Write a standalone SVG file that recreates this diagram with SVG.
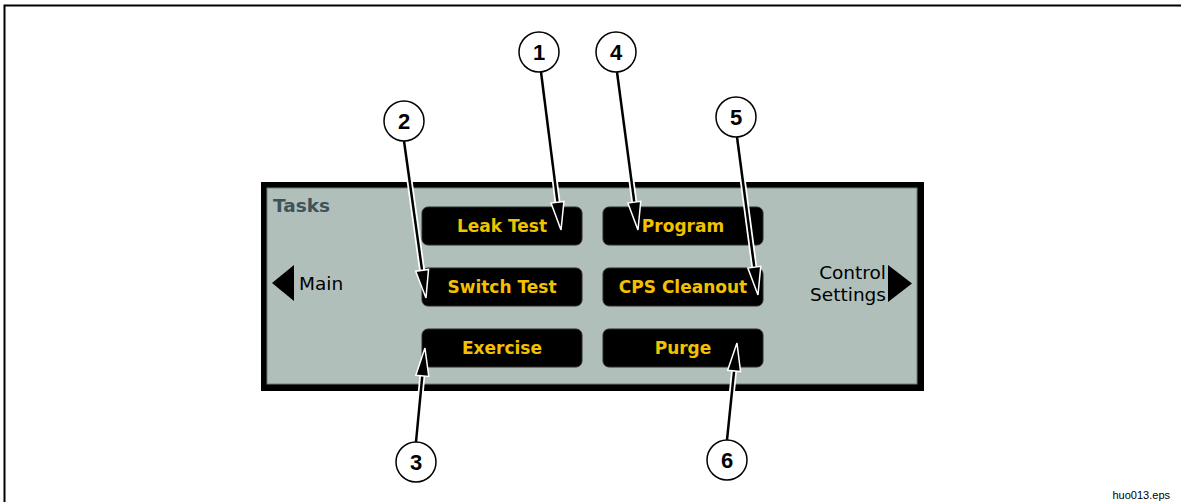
<svg xmlns="http://www.w3.org/2000/svg" width="1181" height="502" viewBox="0 0 1181 502">
<style>
.btn{fill:#000;stroke:#2a2a2a;stroke-width:1}
.btxt{font-family:"DejaVu Sans",Verdana,sans-serif;font-weight:bold;font-size:17px;fill:#f2c100;text-anchor:middle}
.lbl{font-family:"DejaVu Sans",Verdana,sans-serif;font-size:18.5px;fill:#000}
.num{font-family:"Liberation Sans",Arial,sans-serif;font-weight:bold;font-size:22px;fill:#000;text-anchor:middle}
.circ{fill:#fff;stroke:#000;stroke-width:1.5}
.halo{fill:none;stroke:#fff;stroke-width:6}
.lead{fill:none;stroke:#000;stroke-width:2.5;marker-end:url(#ah)}
</style>
<defs>
<marker id="ah" markerUnits="userSpaceOnUse" orient="auto" refX="0" refY="0" markerWidth="40" markerHeight="20" viewBox="-2 -10 34 20" overflow="visible">
<path d="M0,-6.5 L28,0 L0,6.5 Z" fill="#000" stroke="#fff" stroke-width="1.5" stroke-linejoin="miter"/>
</marker>
</defs>
<rect width="1181" height="502" fill="#fff"/>
<path d="M4.5,502 V5.5 H1181" fill="none" stroke="#000" stroke-width="2"/>
<text x="1170" y="499" font-family="'Liberation Sans',Arial,sans-serif" font-size="11" text-anchor="end">huo013.eps</text>

<g id="panel">
<rect x="261" y="182" width="663" height="209" fill="#000"/>
<rect x="267" y="188" width="650" height="196" fill="#b0bfba" stroke="#6f7c78" stroke-width="1"/>
<text x="273" y="212" font-family="'DejaVu Sans',Verdana,sans-serif" font-weight="bold" font-size="18.5" fill="#3e525a">Tasks</text>
</g>
<g id="main">
<polygon points="272,283 294,265 294,301" fill="#000"/>
<text class="lbl" x="299" y="290">Main</text>
</g>
<g id="control-settings">
<polygon points="888,265 912,283.5 888,302" fill="#000"/>
<text class="lbl" x="886" y="279" text-anchor="end">Control</text>
<text class="lbl" x="886" y="301" text-anchor="end">Settings</text>
</g>
<g id="leak-test"><rect class="btn" x="422" y="207" width="160" height="38" rx="6"/><text class="btxt" x="502" y="232">Leak Test</text></g>
<g id="switch-test"><rect class="btn" x="422" y="268" width="160" height="38" rx="6"/><text class="btxt" x="502" y="293">Switch Test</text></g>
<g id="exercise"><rect class="btn" x="422" y="329" width="160" height="38" rx="6"/><text class="btxt" x="502" y="354">Exercise</text></g>
<g id="program"><rect class="btn" x="603" y="207" width="160" height="38" rx="6"/><text class="btxt" x="683" y="232">Program</text></g>
<g id="cps-cleanout"><rect class="btn" x="603" y="268" width="160" height="38" rx="6"/><text class="btxt" x="683" y="293">CPS Cleanout</text></g>
<g id="purge"><rect class="btn" x="603" y="329" width="160" height="38" rx="6"/><text class="btxt" x="683" y="354">Purge</text></g>

<g id="connectors">
<path class="halo" d="M541,72 L557.5,202.2"/>
<path class="halo" d="M404,141 L422.1,270.3"/>
<path class="halo" d="M416,442 L422.3,375.9"/>
<path class="halo" d="M617,72 L634.3,202.2"/>
<path class="halo" d="M737,137 L754.3,267.2"/>
<path class="halo" d="M727,440 L734.1,370.9"/>
<path class="lead" d="M541,72 L557.5,202.2"/>
<path class="lead" d="M404,141 L422.1,270.3"/>
<path class="lead" d="M416,442 L422.3,375.9"/>
<path class="lead" d="M617,72 L634.3,202.2"/>
<path class="lead" d="M737,137 L754.3,267.2"/>
<path class="lead" d="M727,440 L734.1,370.9"/>
</g>

<g id="callout-1"><circle class="circ" cx="539" cy="52" r="20"/><text class="num" x="539" y="60">1</text></g>
<g id="callout-2"><circle class="circ" cx="404" cy="121" r="20"/><text class="num" x="404" y="129">2</text></g>
<g id="callout-3"><circle class="circ" cx="416" cy="462" r="20"/><text class="num" x="416" y="470">3</text></g>
<g id="callout-4"><circle class="circ" cx="616" cy="52" r="20"/><text class="num" x="616" y="60">4</text></g>
<g id="callout-5"><circle class="circ" cx="736" cy="117" r="20"/><text class="num" x="736" y="125">5</text></g>
<g id="callout-6"><circle class="circ" cx="727" cy="460" r="20"/><text class="num" x="727" y="468">6</text></g>
</svg>
